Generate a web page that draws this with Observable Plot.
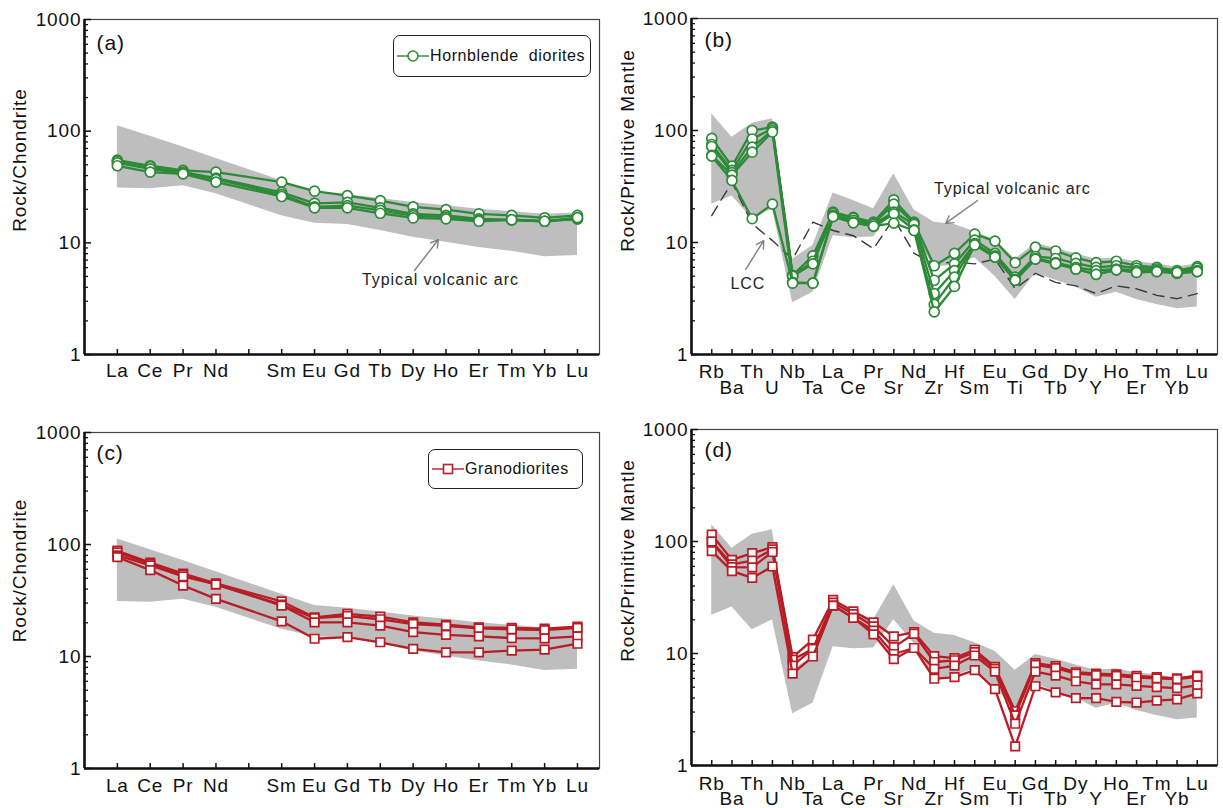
<!DOCTYPE html>
<html><head><meta charset="utf-8">
<script src="https://cdn.jsdelivr.net/npm/d3@7"></script>
<script src="https://cdn.jsdelivr.net/npm/@observablehq/plot@0.6"></script>
<style>
body{margin:0;background:#fff;font-family:"Liberation Sans",Arial,sans-serif;}
#wrap{position:relative;width:1223px;height:808px;overflow:hidden;background:#fff;}
.panel{position:absolute;}
.legend{position:absolute;box-sizing:border-box;border:1.3px solid #222;border-radius:7px;background:#fff;display:flex;align-items:center;font-size:16px;letter-spacing:0.6px;white-space:pre;color:#111;}
</style></head>
<body><div id="wrap"></div>
<script>
// ---------- tick labels / element lists ----------
const reeTicks = ["La","Ce","Pr","Nd","","Sm","Eu","Gd","Tb","Dy","Ho","Er","Tm","Yb","Lu"];
const reeElems = ["La","Ce","Pr","Nd","Sm","Eu","Gd","Tb","Dy","Ho","Er","Tm","Yb","Lu"];
const spiderElems = ["Rb","Ba","Th","U","Nb","Ta","La","Ce","Pr","Sr","Nd","Zr","Hf","Sm","Eu","Ti","Gd","Tb","Dy","Y","Ho","Er","Tm","Yb","Lu"];
const yMajor = [1,10,100,1000];

// ---------- typical volcanic arc field ----------
const arcReeLow  = [31,30.5,32.5,27.5,17.5,15,14.6,12.9,11.2,10.1,9.1,8.4,7.5,7.7];
const arcReeHigh = [112,90,72,57,36,28.5,27,25,23,21.5,20,19,18,18.5];
const arcSpiderLow  = [22,26,16.3,20,2.9,3.6,11.5,11,11.2,20,12.3,6.0,6.3,7.3,5.0,3.1,5.3,4.6,4.0,3.25,3.6,3.1,2.8,2.56,2.65];
const arcSpiderHigh = [141,87,116,127,7.1,9.4,27.6,23.7,20,41,19.5,15.2,14.5,12.5,10.5,7.1,9.8,8.9,7.9,7.1,7.3,6.7,6.45,6.0,6.45];

// ---------- lower continental crust ----------
const lcc = [17.4,34.5,14.7,10.4,7.1,15.2,12.8,11.5,8.8,16.4,8,6.45,6.7,6.45,7.1,3.86,5.3,4.4,4.1,3.5,4.1,3.86,3.37,3.15,3.5];

// ---------- hornblende diorites, chondrite-normalized ----------
const hblRee1 = [55,49,44.5,43,35,29,26.5,23.9,21,19.8,18.2,17.6,16.7,17.6];
const hblRee2 = [54,48,43,38,28.3,22.6,23,20.6,18.2,17.6,16.4,16.1,15.6,16.4];
const hblRee3 = [52,46,42,37,27,21,21.5,19.5,17.5,17,16,16,15.6,16.4];
const hblRee4 = [49,43,41.4,35,26,20.6,20.6,18.4,16.7,16.4,15.6,16.1,15.6,16.8];

// ---------- hornblende diorites, primitive-mantle-normalized ----------
const hblSp1 = [85,48,100,107,5.1,7.6,18.7,16.8,15.2,24,15.2,6.2,8.0,11.9,10.3,6.6,9.1,8.4,7.3,6.6,6.8,6.2,6.0,5.6,6.1];
const hblSp2 = [75,44,84,104,5.0,6.8,18.2,16.5,14.8,22,14.9,4.6,6.45,10.5,8.0,4.9,7.5,7.2,6.5,6.0,6.2,5.9,5.8,5.4,5.9];
const hblSp3 = [72,42,71,100,5.0,6.45,17.5,15.8,14.5,18.7,14.5,3.5,5.6,9.8,7.6,4.7,7.2,6.6,6.0,5.6,5.8,5.6,5.6,5.4,5.6];
const hblSp4 = [60,40,64,97,4.4,4.33,17.1,15.2,13.9,18,13,2.8,4.9,9.7,7.4,4.6,7.1,6.45,5.8,5.2,5.7,5.4,5.5,5.3,5.5];
const hblSp5 = [59,35.8,16.3,22,4.33,4.33,17,15,14,14.9,12.8,2.4,4.05,9.5,7.4,4.6,7.1,6.5,5.8,5.2,5.7,5.4,5.5,5.4,5.5];

// ---------- granodiorites, chondrite-normalized ----------
const grdRee1 = [88,69,55,45,31,22.4,24,22.7,20.2,19.2,18.2,18,17.7,18.5];
const grdRee2 = [85,67,54,44,29,22,23,21.5,19.5,18.8,17.8,17.5,17.2,18];
const grdRee3 = [80,65,52,44,28.5,20.2,20.2,18.9,16.5,15.6,15.1,14.6,14.5,15.1];
const grdRee4 = [77,59,43,32.7,20.6,14.4,14.9,13.4,11.7,10.9,10.9,11.3,11.5,13.0];

// ---------- granodiorites, primitive-mantle-normalized ----------
const grdSp1 = [115,68.5,78.6,89,9.3,13.3,30.1,23.8,19,14.2,15.5,9.47,9.1,10.8,7.6,3.05,8.2,7.7,6.8,6.6,6.5,6.3,6.15,6.0,6.35];
const grdSp2 = [100,62.5,67.6,85,8.8,11,28.5,22.5,17.5,11.4,15,8.4,8.7,10.3,7.3,2.8,7.9,7.4,6.6,6.4,6.3,6.1,6.0,5.9,6.2];
const grdSp3 = [100,59,58.8,80.6,7.8,11,26.8,20.8,16,9.9,11.2,7.3,7.8,9.6,6.9,2.36,6.9,6.35,5.65,5.3,5.3,5.15,5.0,4.9,5.2];
const grdSp4 = [82,54.4,47.3,59.8,6.6,9.4,26.8,20.8,14.8,8.9,11.2,5.95,6.15,7.1,4.8,1.48,5.1,4.5,4.0,4.0,3.7,3.65,3.8,3.9,4.4];

const GREEN = "#2d8a38", RED = "#b81c25", BAND = "#bebebe", ARROW = "#808080";

function makePanel(cfg){
  const [mt, mr, mb, ml] = cfg.margin;
  const fw = cfg.width - ml - mr, fh = cfg.height - mt - mb;
  const xi = e => cfg.ticks.indexOf(e);
  const tickIdx = cfg.ticks.map((_, i) => i);
  const minor = [];
  for (const d of [1, 10, 100]) for (let k = 2; k <= 9; k++) minor.push(d * k);
  const bandRows = cfg.elems.map((e, i) => ({x: xi(e), lo: cfg.bandLow[i], hi: cfg.bandHigh[i]}));
  const marks = [Plot.areaY(bandRows, {x: "x", y1: "lo", y2: "hi", fill: BAND})];
  if (cfg.lcc) {
    marks.push(Plot.line(cfg.elems.map((e, i) => ({x: xi(e), y: cfg.lcc[i]})),
      {x: "x", y: "y", stroke: "#3a3a3a", strokeWidth: 1.4, strokeDasharray: "11,7"}));
  }
  cfg.series.forEach((vals, si) => {
    const rows = cfg.elems.map((e, i) => ({x: xi(e), y: vals[i], s: si}));
    marks.push(Plot.line(rows, {x: "x", y: "y", stroke: cfg.color, strokeWidth: 2.3}));
    marks.push(Plot.dot(rows, {x: "x", y: "y", r: cfg.r, symbol: cfg.symbol, fill: "white", stroke: cfg.color, strokeWidth: 1.7}));
  });
  marks.push(...(cfg.annotations || []));
  marks.push(
    Plot.frame({stroke: "#444", strokeWidth: 1.2}),
    Plot.ruleX([cfg.xDomain[0]], {stroke: "#111", strokeWidth: 2.6}),
    Plot.ruleY([1], {stroke: "#111", strokeWidth: 2.6}),
    Plot.tickX(tickIdx, {x: d => d, insetTop: fh - 5, stroke: "#111", strokeWidth: 1.5}),
    Plot.tickY(minor, {y: d => d, insetRight: fw - 4, stroke: "#111", strokeWidth: 1.3}),
    Plot.tickY(yMajor, {y: d => d, insetRight: fw - 7, stroke: "#111", strokeWidth: 1.5}),
    Plot.axisY({ticks: yMajor, tickSize: 0, tickPadding: 3, tickFormat: d => String(d), label: null, fill: "#111"}),
    Plot.text([cfg.ytitle], {text: d => d, frameAnchor: "left", dx: cfg.titleDx, dy: cfg.titleDy, rotate: -90, textAnchor: "middle", lineAnchor: "middle", fill: "#111"}),
    Plot.text([cfg.letter], {text: d => d, frameAnchor: "top-left", dx: cfg.letterDx, dy: cfg.letterDy, textAnchor: "start", lineAnchor: "middle", fontSize: 21, fill: "#111"})
  );
  if (cfg.twoRow) {
    marks.push(
      Plot.text(tickIdx.filter(i => i % 2 === 0), {x: d => d, text: d => cfg.ticks[d], frameAnchor: "bottom", lineAnchor: "middle", dy: cfg.row1, fill: "#111"}),
      Plot.text(tickIdx.filter(i => i % 2 === 1), {x: d => d, text: d => cfg.ticks[d], frameAnchor: "bottom", lineAnchor: "middle", dy: cfg.row2, fill: "#111"})
    );
  } else {
    marks.push(Plot.text(tickIdx, {x: d => d, text: d => cfg.ticks[d], frameAnchor: "bottom", lineAnchor: "middle", dy: cfg.row1, fill: "#111"}));
  }
  const chart = Plot.plot({
    width: cfg.width, height: cfg.height,
    marginTop: mt, marginRight: mr, marginBottom: mb, marginLeft: ml,
    x: {domain: cfg.xDomain, axis: null},
    y: {type: "log", domain: [1, 1000]},
    style: {fontFamily: "'Liberation Sans', Arial, sans-serif", fontSize: "19px", letterSpacing: "0.9px", color: "#111", background: "transparent", overflow: "visible"},
    marks
  });
  chart.classList.add("panel");
  chart.style.left = cfg.left + "px";
  chart.style.top = cfg.top + "px";
  document.getElementById("wrap").appendChild(chart);
}

const arcTextA = [Plot.arrow([0], {x1: 9.04, y1: 5.65, x2: 9.77, y2: 10.7, stroke: ARROW, strokeWidth: 1.4, headLength: 9}),
  Plot.text(["Typical volcanic arc"], {x: 9.83, y: 4.65, text: d => d, fontSize: 16, fill: "#222"})];
const annB = [Plot.arrow([0], {x1: 13.14, y1: 23.7, x2: 11.56, y2: 14.8, stroke: ARROW, strokeWidth: 1.4, headLength: 9}),
  Plot.text(["Typical volcanic arc"], {x: 14.86, y: 30.3, text: d => d, fontSize: 16, fill: "#222"}),
  Plot.arrow([0], {x1: 1.68, y1: 5.75, x2: 2.57, y2: 10.4, stroke: ARROW, strokeWidth: 1.4, headLength: 9}),
  Plot.text(["LCC"], {x: 1.78, y: 4.3, text: d => d, fontSize: 16, fill: "#222"})];

makePanel({left: 0, top: 0, width: 610, height: 400, margin: [19, 11, 46, 84], xDomain: [-1, 14.67],
  ticks: reeTicks, elems: reeElems, bandLow: arcReeLow, bandHigh: arcReeHigh,
  series: [hblRee1, hblRee2, hblRee3, hblRee4], color: GREEN, symbol: "circle", r: 5,
  ytitle: "Rock/Chondrite", titleDx: -65, titleDy: -27, letter: "(a)", letterDx: 12, letterDy: 24,
  row1: 16, annotations: arcTextA});

makePanel({left: 610, top: 0, width: 613, height: 400, margin: [18, 6, 46, 81], xDomain: [-1, 25],
  ticks: spiderElems, elems: spiderElems, bandLow: arcSpiderLow, bandHigh: arcSpiderHigh, lcc: lcc,
  series: [hblSp1, hblSp2, hblSp3, hblSp4, hblSp5], color: GREEN, symbol: "circle", r: 5,
  ytitle: "Rock/Primitive Mantle", titleDx: -64, titleDy: -36, letter: "(b)", letterDx: 13, letterDy: 22,
  twoRow: true, row1: 17, row2: 33, annotations: annB});

makePanel({left: 0, top: 410, width: 610, height: 398, margin: [22, 11, 40, 84], xDomain: [-1, 14.67],
  ticks: reeTicks, elems: reeElems, bandLow: arcReeLow, bandHigh: arcReeHigh,
  series: [grdRee1, grdRee2, grdRee3, grdRee4], color: RED, symbol: "square", r: 4.8,
  ytitle: "Rock/Chondrite", titleDx: -65, titleDy: -30, letter: "(c)", letterDx: 12, letterDy: 21,
  row1: 17});

makePanel({left: 610, top: 410, width: 613, height: 398, margin: [19, 6, 43, 81], xDomain: [-1, 25],
  ticks: spiderElems, elems: spiderElems, bandLow: arcSpiderLow, bandHigh: arcSpiderHigh,
  series: [grdSp1, grdSp2, grdSp3, grdSp4], color: RED, symbol: "square", r: 4.8,
  ytitle: "Rock/Primitive Mantle", titleDx: -64, titleDy: -37, letter: "(d)", letterDx: 13, letterDy: 21,
  twoRow: true, row1: 18, row2: 33});

// legends
const wrap = document.getElementById("wrap");
function legend(left, top, w, h, color, shape, label){
  const div = document.createElement("div");
  div.className = "legend";
  Object.assign(div.style, {left: left + "px", top: top + "px", width: w + "px", height: h + "px"});
  const mk = shape === "circle"
    ? `<circle cx="17" cy="9" r="5" fill="#fff" stroke="${color}" stroke-width="1.6"/>`
    : `<rect x="12.5" y="4.5" width="9" height="9" fill="#fff" stroke="${color}" stroke-width="1.6"/>`;
  div.innerHTML = `<svg width="34" height="18" style="margin-left:2px;flex:none"><line x1="1" x2="33" y1="9" y2="9" stroke="${color}" stroke-width="1.4"/>${mk}</svg><span></span>`;
  div.querySelector("span").textContent = label;
  wrap.appendChild(div);
}
legend(393, 35, 198, 42, GREEN, "circle", "Hornblende  diorites");
legend(428, 449, 155, 40, RED, "square", "Granodiorites");
</script>
</body></html>
